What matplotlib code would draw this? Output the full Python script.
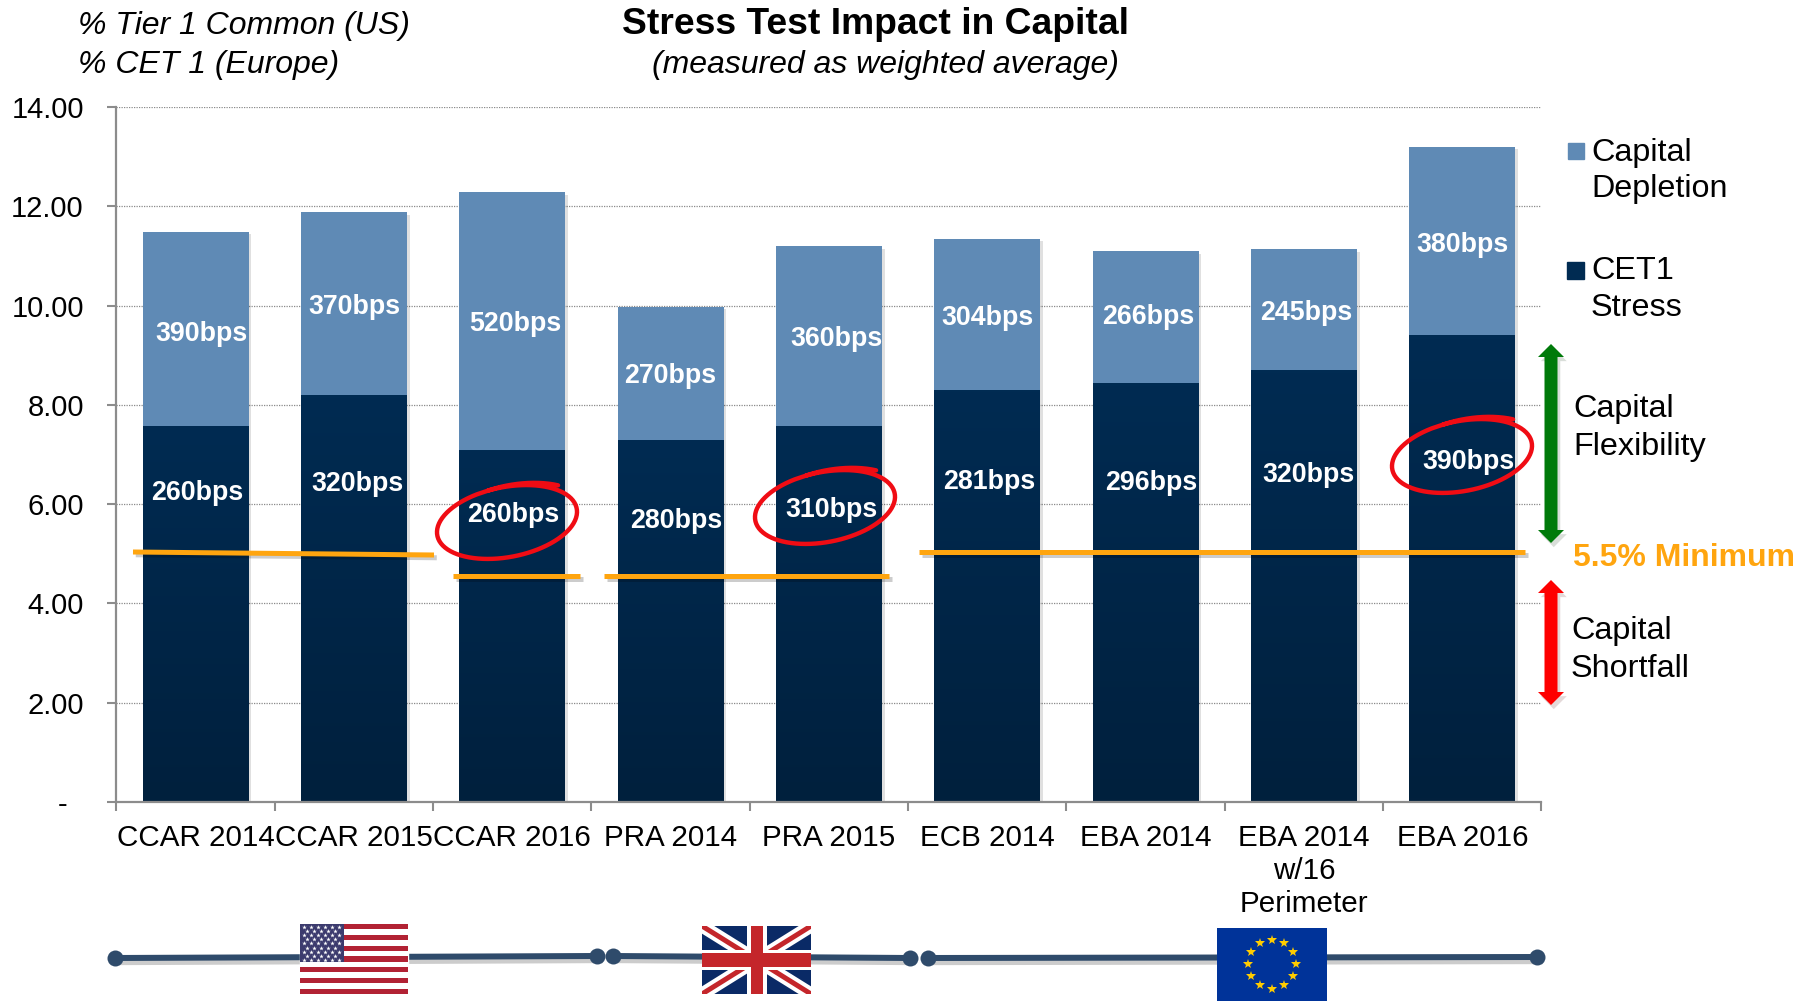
import matplotlib
matplotlib.use('Agg')
import matplotlib.pyplot as plt
import matplotlib.patches as mpatches
import matplotlib.patheffects as pe
import numpy as np

plt.rcParams['font.family'] = ['Liberation Sans', 'DejaVu Sans']

categories = ['CCAR 2014', 'CCAR 2015', 'CCAR 2016', 'PRA 2014', 'PRA 2015', 'ECB 2014',
              'EBA 2014', 'EBA 2014\nw/16\nPerimeter', 'EBA 2016']
cet1_stress = [7.58, 8.19, 7.09, 7.30, 7.58, 8.30, 8.44, 8.70, 9.40]
total_height = [11.49, 11.88, 12.28, 9.98, 11.19, 11.35, 11.09, 11.14, 13.20]
depletion = [t - c for t, c in zip(total_height, cet1_stress)]
light_labels = ['390bps', '370bps', '520bps', '270bps', '360bps', '304bps', '266bps', '245bps', '380bps']
dark_labels = ['260bps', '320bps', '260bps', '280bps', '310bps', '281bps', '296bps', '320bps', '390bps']
y_ticks = [0, 2, 4, 6, 8, 10, 12, 14]
y_ticklabels = ['-  ', '2.00', '4.00', '6.00', '8.00', '10.00', '12.00', '14.00']

# label centres, in pixels of the full picture
light_label_x = [201, 354, 515, 670, 836, 987, 1148, 1306, 1462]
light_label_y = [334, 307, 324, 376, 339, 318, 317, 313, 245]
dark_label_x = [197, 357, 513, 676, 831, 989, 1151, 1308, 1468]
dark_label_y = [493, 484, 515, 521, 510, 482, 483, 475, 462]
circle_centres = [(507, 522), (825, 507), (1462, 456)]

DARK_TOP = '#002b52'
DARK_BOTTOM = '#01203d'
LIGHT = '#5f8ab5'
ORANGE = '#ffa50f'
LINE_BLUE = '#2f4b6b'
W, H = 1808, 1001

fig = plt.figure(figsize=(W / 100, H / 100), dpi=100)
ax = fig.add_axes([116.5 / W, 1 - 802 / H, (1541.5 - 116.5) / W, (802 - 107) / H])
x = np.arange(len(categories))
shadow = [pe.withSimplePatchShadow(offset=(2, -2), alpha=0.12, shadow_rgbFace='k')]

ax.bar(x, depletion, 0.668, bottom=cet1_stress, color=LIGHT, zorder=2, path_effects=shadow)
dark_bars = ax.bar(x, cet1_stress, 0.668, color=DARK_TOP, zorder=2, path_effects=shadow)

# the dark bars fade a little towards the base
top_rgb = np.array(matplotlib.colors.to_rgb(DARK_TOP))
bottom_rgb = np.array(matplotlib.colors.to_rgb(DARK_BOTTOM))
fade = np.linspace(0, 1, 128)[:, None, None]
grad = top_rgb[None, None, :] * (1 - fade) + bottom_rgb[None, None, :] * fade
for b in dark_bars:
    im = ax.imshow(grad, extent=[b.get_x(), b.get_x() + b.get_width(), 0, b.get_height()],
                   aspect='auto', origin='upper', zorder=2.1)
    im.set_clip_path(b)

ax.set_xlim(-0.5, len(categories) - 0.5)
ax.set_ylim(0, 14)
ax.set_yticks(y_ticks)
ax.set_yticklabels(y_ticklabels)
ax.set_xticks(np.arange(len(categories) + 1) - 0.5)
ax.set_xticklabels([])
ax.set_xticks(x, categories, minor=True)
ax.tick_params(axis='x', which='minor', length=0, pad=16, labelsize=21.3)
ax.tick_params(axis='x', which='major', length=6.5, width=1.5, color='#8c8c8c')
ax.tick_params(axis='y', length=6.5, width=1.5, color='#8c8c8c', labelsize=21, pad=17)
for lab in ax.get_xticklabels(minor=True):
    lab.set_linespacing(1.22)
ax.grid(axis='y', color='#8a8a8a', ls=(0, (1, 1)), lw=0.9, zorder=1)
ax.set_axisbelow(True)
for s in ['top', 'right']:
    ax.spines[s].set_visible(False)
for s in ['left', 'bottom']:
    ax.spines[s].set_color('#8c8c8c')
    ax.spines[s].set_linewidth(1.6)

# everything else sits on a layer measured in picture pixels
ov = fig.add_axes([0, 0, 1, 1], zorder=5)
ov.set_xlim(0, W)
ov.set_ylim(H, 0)
ov.axis('off')
ov.patch.set_alpha(0)


def px(v):
    return v * 72 / 100


for t, lx, ly in zip(light_labels, light_label_x, light_label_y):
    ov.text(lx, ly, t, color='white', weight='bold', fontsize=19.3, ha='center', va='center')
for t, lx, ly in zip(dark_labels, dark_label_x, dark_label_y):
    ov.text(lx, ly, t, color='white', weight='bold', fontsize=19.3, ha='center', va='center')

# header
ov.text(78, 26, '% Tier 1 Common (US)', style='italic', fontsize=23, va='center')
ov.text(78, 65, '% CET 1 (Europe)', style='italic', fontsize=23, va='center')
ov.text(876, 25, 'Stress Test Impact in Capital', weight='bold', fontsize=26.8, ha='center', va='center')
ov.text(885, 65, '(measured as weighted average)', style='italic', fontsize=23, ha='center', va='center')

# minimum lines
line_fx = [pe.SimpleLineShadow(offset=(2, -2), alpha=0.2), pe.Normal()]
for xs, ys in [((133, 434), (552, 555)), ((453, 580), (576, 576)),
               ((604, 889), (576, 576)), ((919, 1525), (552, 552))]:
    ov.plot(xs, ys, color=ORANGE, lw=px(5), solid_capstyle='butt', path_effects=line_fx)

# hand drawn circles
t = np.linspace(0.75, 0.75 + 2 * np.pi + 1.0, 200)
rot = np.radians(-11)
grow = 1 + 0.1 * np.clip((t[0] + 1.0 - t) / 1.0, 0, 1)
ex = 71 * grow * np.cos(-t)
ey = 35 * grow * np.sin(-t)
for cx, cy in circle_centres:
    ov.plot(cx + ex * np.cos(rot) - ey * np.sin(rot), cy + ex * np.sin(rot) + ey * np.cos(rot),
            color='#f00c14', lw=px(4.4), solid_capstyle='round')

# legend
ov.add_patch(mpatches.Rectangle((1568, 143), 16, 16, color=LIGHT))
ov.add_patch(mpatches.Rectangle((1567, 262), 17, 17, color=DARK_TOP))
for s, sx, sy in [('Capital', 1591, 153), ('Depletion', 1591, 189), ('CET1', 1591, 271), ('Stress', 1591, 308),
                  ('Capital', 1573, 409), ('Flexibility', 1573, 447), ('Capital', 1571, 631), ('Shortfall', 1571, 669)]:
    ov.text(sx, sy, s, fontsize=23.3, va='center')
ov.text(1573, 558, '5.5% Minimum', fontsize=23, weight='bold', color=ORANGE, va='center')


def double_arrow(xc, y0, y1, color):
    hw, sw, hl = 13, 6.5, 13
    pts = [(xc, y0), (xc + hw, y0 + hl), (xc + sw, y0 + hl), (xc + sw, y1 - hl), (xc + hw, y1 - hl), (xc, y1),
           (xc - hw, y1 - hl), (xc - sw, y1 - hl), (xc - sw, y0 + hl), (xc - hw, y0 + hl)]
    ov.add_patch(mpatches.Polygon(pts, closed=True, color=color, lw=0,
                                  path_effects=[pe.withSimplePatchShadow(offset=(2, -3), alpha=0.15)]))


double_arrow(1551, 344, 543, '#007a0a')
double_arrow(1551, 580, 705, '#fe0000')

# region bar along the bottom
dot_fx = [pe.SimpleLineShadow(offset=(2, -3), alpha=0.2), pe.Normal()]
for xs, ys in [((115, 597), (958, 956)), ((613, 910), (956, 958)), ((928, 1537), (958, 957))]:
    ov.plot(xs, ys, color=LINE_BLUE, lw=px(6), path_effects=dot_fx, zorder=2)
ov.plot([115, 597, 613, 910, 928, 1537], [958, 956, 956, 958, 958, 957], 'o', color=LINE_BLUE,
        ms=px(16), mew=0, zorder=2)

# US flag
x0, x1, y0, y1 = 300, 408, 924, 994
ov.add_patch(mpatches.Rectangle((x0, y0), x1 - x0, y1 - y0, color='white', zorder=3))
stripe = (y1 - y0) / 13
for i in range(0, 13, 2):
    ov.add_patch(mpatches.Rectangle((x0, y0 + i * stripe), x1 - x0, stripe, color='#b22234', lw=0, zorder=3))
ov.add_patch(mpatches.Rectangle((x0, y0), 44, 7 * stripe, color='#3c3b6e', lw=0, zorder=3))
for r in range(9):
    n = 6 if r % 2 == 0 else 5
    off = 4 if r % 2 == 0 else 7.5
    for c in range(n):
        ov.plot(x0 + off + c * 7, y0 + 3 + r * 4.1, marker='*', color='white', ms=3.4, mew=0, zorder=3.1)

# UK flag
x0, x1, y0, y1 = 702, 811, 926, 994
uk = mpatches.Rectangle((x0, y0), x1 - x0, y1 - y0, color='#0a2a66', lw=0, zorder=3)
ov.add_patch(uk)
xm, ym = 757, 960
for xs, ys in [((x0, x1), (y0, y1)), ((x0, x1), (y1, y0))]:
    ov.plot(xs, ys, color='white', lw=px(13), zorder=3.1, solid_capstyle='butt')[0].set_clip_path(uk)
    ov.plot(xs, ys, color='#c4262b', lw=px(5), zorder=3.2, solid_capstyle='butt')[0].set_clip_path(uk)
ov.add_patch(mpatches.Rectangle((xm - 10, y0), 20, y1 - y0, color='white', lw=0, zorder=3.3))
ov.add_patch(mpatches.Rectangle((x0, ym - 10), x1 - x0, 20, color='white', lw=0, zorder=3.3))
ov.add_patch(mpatches.Rectangle((xm - 6, y0), 12, y1 - y0, color='#c4262b', lw=0, zorder=3.4))
ov.add_patch(mpatches.Rectangle((x0, ym - 7), x1 - x0, 14, color='#c4262b', lw=0, zorder=3.4))

# EU flag
ov.add_patch(mpatches.Rectangle((1217, 928), 110, 73, color='#003399', lw=0, zorder=3))
a = np.arange(12) * np.pi / 6
ov.plot(1272 + 24 * np.cos(a), 964 + 24.5 * np.sin(a), '*', color='#ffcc00', ms=7, mew=0, ls='none', zorder=3.1)

fig.savefig('out.png', dpi=100)
